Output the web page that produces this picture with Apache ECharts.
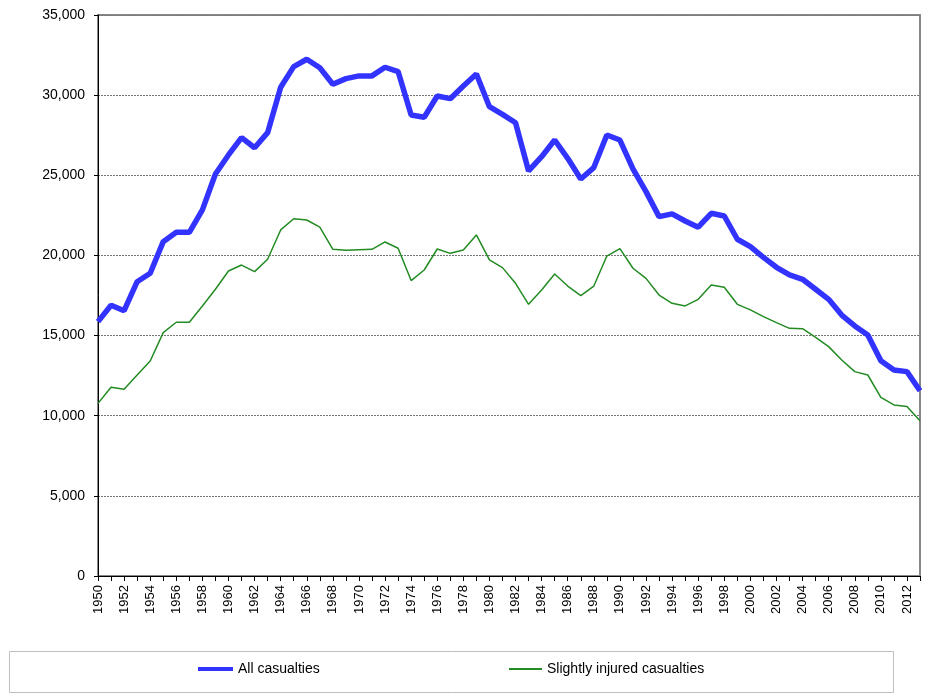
<!DOCTYPE html>
<html>
<head>
<meta charset="utf-8">
<script src="https://cdn.jsdelivr.net/npm/echarts@6/dist/echarts.min.js"></script>
<style>
html,body{margin:0;padding:0;background:#fff;}
#main{width:929px;height:695px;}
</style>
</head>
<body>
<div id="main"></div>
<script>
var years = [];
for (var y = 1950; y <= 2013; y++) years.push(String(y));

var allCasualties = [
 15870,16890,16550,18360,18890,20860,21440,21440,22840,25080,
 26270,27350,26720,27660,30490,31780,32240,31710,30680,31030,
 31200,31200,31740,31470,28760,28620,29950,29780,30570,31320,
 29280,28800,28280,25270,26160,27200,26060,24770,25480,27510,
 27200,25400,23980,22420,22590,22150,21760,22630,22460,21010,
 20550,19880,19260,18780,18510,17890,17260,16280,15600,15040,
 13430,12850,12750,11560
];
var slightlyInjured = [
 10770,11770,11650,12540,13410,15180,15830,15830,16850,17890,
 19030,19400,18990,19760,21590,22290,22210,21760,20380,20320,
 20360,20380,20840,20450,18430,19090,20400,20130,20340,21280,
 19720,19240,18260,16950,17840,18840,18090,17490,18090,19960,
 20420,19200,18570,17530,17010,16850,17260,18160,18010,16950,
 16600,16180,15810,15450,15430,14890,14310,13480,12750,12540,
 11150,10670,10570,9690
];
var seriesNames = ['All casualties', 'Slightly injured casualties'];

var chart = echarts.init(document.getElementById('main'), null, {renderer: 'canvas'});
var font = '"Liberation Sans", Arial, sans-serif';
chart.setOption({
  animation: false,
  backgroundColor: '#ffffff',
  grid: {left: 98, right: 9, top: 15, bottom: 119, show: true, borderColor: '#888888', borderWidth: 2},
  graphic: [{
    type: 'rect', left: 7, top: 649, shape: {width: 884, height: 41},
    style: {fill: 'none', stroke: '#bfbfbf', lineWidth: 1}, z: 0
  }],
  legend: [
    {data: [seriesNames[0]], left: 198, top: 662, padding: 0, icon: 'rect', itemWidth: 35, itemHeight: 4, itemGap: 4,
     textStyle: {fontFamily: font, fontSize: 14, color: '#000'}},
    {data: [seriesNames[1]], left: 509, top: 662, padding: 0, icon: 'rect', itemWidth: 33, itemHeight: 2, itemGap: 4,
     textStyle: {fontFamily: font, fontSize: 14, color: '#000'}}
  ],
  xAxis: {
    type: 'category', data: years, boundaryGap: false,
    axisLine: {lineStyle: {color: '#000', width: 1}},
    axisTick: {show: true, interval: 0, length: 5, lineStyle: {color: '#000'}},
    axisLabel: {interval: 1, rotate: 90, fontFamily: font, fontSize: 13, color: '#000', margin: 9},
    splitLine: {show: false}
  },
  yAxis: {
    type: 'value', min: 0, max: 35000, interval: 5000,
    axisLine: {show: true, lineStyle: {color: '#000', width: 1}},
    axisTick: {show: true, length: 4, lineStyle: {color: '#000'}},
    axisLabel: {fontFamily: font, fontSize: 14, color: '#000', margin: 13,
      formatter: function (v) { return v.toString().replace(/\B(?=(\d{3})+(?!\d))/g, ','); }},
    splitLine: {show: true, lineStyle: {color: '#777777', type: [2, 1], width: 1}}
  },
  series: [
    {name: seriesNames[0], type: 'line', data: allCasualties, symbol: 'none',
     lineStyle: {color: '#3333ff', width: 5.5}, itemStyle: {color: '#3333ff'}, z: 3},
    {name: seriesNames[1], type: 'line', data: slightlyInjured, symbol: 'none',
     lineStyle: {color: '#228b22', width: 1.5}, itemStyle: {color: '#228b22'}, z: 2}
  ]
});
</script>
</body>
</html>
